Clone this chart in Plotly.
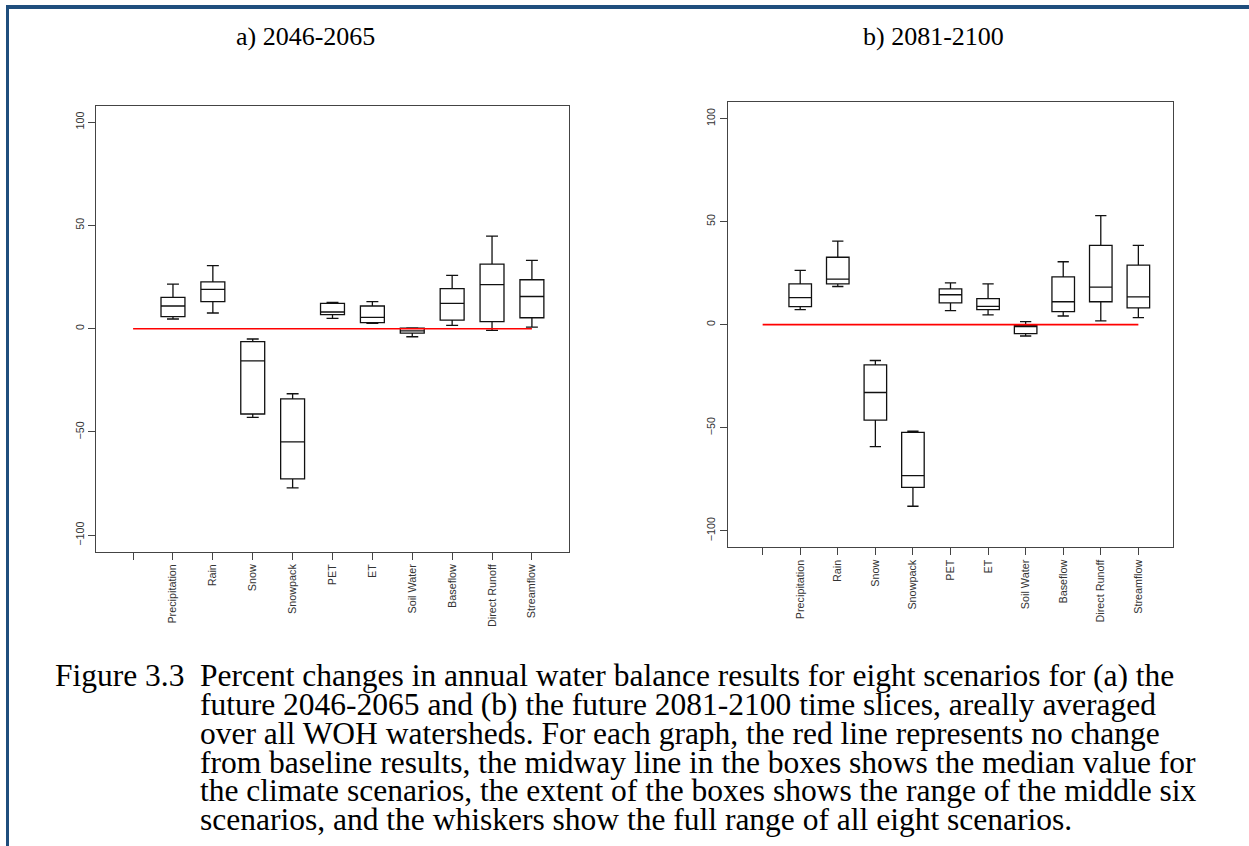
import plotly.graph_objects as go

W, H = 1249, 846

categories = ["Precipitation", "Rain", "Snow", "Snowpack", "PET", "ET",
              "Soil Water", "Baseflow", "Direct Runoff", "Streamflow"]

# a) 2046-2065
a_min = [4.7, 7.6, -42.9, -77.1, 5.0, 2.6, -3.9, 1.6, -0.8, 0.8]
a_q1 = [5.8, 13.1, -41.3, -72.7, 6.8, 2.9, -2.1, 4.2, 3.4, 5.3]
a_med = [11.0, 19.0, -15.6, -54.8, 8.1, 5.5, -1.1, 12.3, 21.3, 15.6]
a_q3 = [15.2, 22.7, -6.3, -34.0, 12.3, 11.0, 0.3, 19.4, 31.3, 23.7]
a_max = [21.6, 30.5, -5.0, -31.5, 12.7, 13.1, 0.4, 25.8, 44.8, 33.1]

# b) 2081-2100
b_min = [7.3, 18.5, -59.2, -88.1, 6.8, 4.7, -5.5, 4.2, 1.8, 3.4]
b_q1 = [8.7, 19.8, -46.3, -78.9, 10.6, 7.3, -4.4, 6.3, 11.1, 8.1]
b_med = [13.1, 22.1, -32.9, -73.2, 14.5, 8.9, -0.8, 11.1, 18.2, 13.5]
b_q3 = [19.8, 32.7, -19.5, -52.3, 17.4, 12.6, -0.5, 23.2, 38.5, 28.9]
b_max = [26.3, 40.5, -17.4, -51.6, 20.3, 19.8, 1.5, 30.5, 52.9, 38.5]

y_ticks = [-100, -50, 0, 50, 100]
baseline_value = [0, 0]

titles = ["a) 2046-2065", "b) 2081-2100"]
caption_head = "Figure 3.3"
caption_lines = [
    "Percent changes in annual water balance results for eight scenarios for (a) the",
    "future 2046-2065 and (b) the future 2081-2100 time slices, areally averaged",
    "over all WOH watersheds. For each graph, the red line represents no change",
    "from baseline results, the midway line in the boxes shows the median value for",
    "the climate scenarios, the extent of the boxes shows the range of the middle six",
    "scenarios, and the whiskers show the full range of all eight scenarios.",
]

positions = [i + 1 for i in range(len(categories))]
tick_positions = [0] + positions
tick_text = [""] + categories
line_x = [0, len(categories)]


def px_x(p):
    return p / W


def px_y(p):
    return 1 - p / H


fig = go.Figure()

panels = [
    ("x", "y", a_min, a_q1, a_med, a_q3, a_max),
    ("x2", "y2", b_min, b_q1, b_med, b_q3, b_max),
]
for xa, ya, mn, q1, md, q3, mx in panels:
    fig.add_trace(go.Box(
        x=positions, q1=q1, median=md, q3=q3, lowerfence=mn, upperfence=mx,
        xaxis=xa, yaxis=ya, width=0.6, whiskerwidth=0.5,
        fillcolor="white", line=dict(color="#111111", width=1.3),
        boxpoints=False, showlegend=False, hoverinfo="skip",
    ))
    fig.add_trace(go.Scatter(
        x=line_x, y=baseline_value, xaxis=xa, yaxis=ya, mode="lines",
        line=dict(color="#ff0000", width=1.6), showlegend=False, hoverinfo="skip",
    ))

tick_font = dict(family="Liberation Sans, Arial, sans-serif", size=10.8, color="#333333")
axis_common = dict(showline=True, mirror=True, linecolor="#444444", linewidth=1.3,
                   ticks="outside", ticklen=7, tickwidth=1.2, tickcolor="#444444",
                   showgrid=False, zeroline=False, tickfont=tick_font)

fig.update_layout(
    width=W, height=H, margin=dict(l=0, r=0, t=0, b=0),
    paper_bgcolor="white", plot_bgcolor="white", showlegend=False,
    xaxis=dict(domain=[px_x(96), px_x(569)], range=[-0.93, 10.93],
               tickmode="array", tickvals=tick_positions, ticktext=tick_text,
               tickangle=-90, anchor="y", **axis_common),
    yaxis=dict(domain=[px_y(551.7), px_y(105.7)], range=[-108, 108],
               tickmode="array", tickvals=y_ticks, tickangle=-90, anchor="x",
               **axis_common),
    xaxis2=dict(domain=[px_x(727.7), px_x(1173.3)], range=[-0.93, 10.93],
                tickmode="array", tickvals=tick_positions, ticktext=tick_text,
                tickangle=-90, anchor="y2", **axis_common),
    yaxis2=dict(domain=[px_y(547.3), px_y(102)], range=[-108, 108],
                tickmode="array", tickvals=y_ticks, tickangle=-90, anchor="x2",
                **axis_common),
)

serif = "Liberation Serif, Times New Roman, serif"
annotations = []
# panel titles
title_size = 26
for txt, cx in zip(titles, [305, 933]):
    annotations.append(dict(text=txt, x=px_x(cx), y=px_y(46 + 0.216 * title_size + 1),
                            xref="paper", yref="paper", xanchor="center", yanchor="bottom",
                            showarrow=False,
                            font=dict(family=serif, size=title_size, color="black")))
# caption
cap_size = 31.5
base0, step = 687, 28.9
annotations.append(dict(text=caption_head, x=px_x(53), y=px_y(base0 + 0.216 * cap_size + 1),
                        xref="paper", yref="paper", xanchor="left", yanchor="bottom",
                        showarrow=False, font=dict(family=serif, size=cap_size, color="black")))
for i, line in enumerate(caption_lines):
    annotations.append(dict(text=line, x=px_x(198),
                            y=px_y(base0 + i * step + 0.216 * cap_size + 1),
                            xref="paper", yref="paper", xanchor="left", yanchor="bottom",
                            showarrow=False, font=dict(family=serif, size=cap_size, color="black")))
fig.update_layout(annotations=annotations)

border = "#1f4e7d"
fig.update_layout(shapes=[
    dict(type="line", xref="paper", yref="paper", x0=px_x(6), x1=1, y0=px_y(7), y1=px_y(7),
         line=dict(color=border, width=4)),
    dict(type="line", xref="paper", yref="paper", x0=px_x(7.5), x1=px_x(7.5), y0=px_y(5), y1=0,
         line=dict(color=border, width=3)),
])

fig.write_html("out.html", config={"displayModeBar": False},
               post_script="document.body.style.margin='0px';"
                           "document.body.style.overflow='hidden';")
